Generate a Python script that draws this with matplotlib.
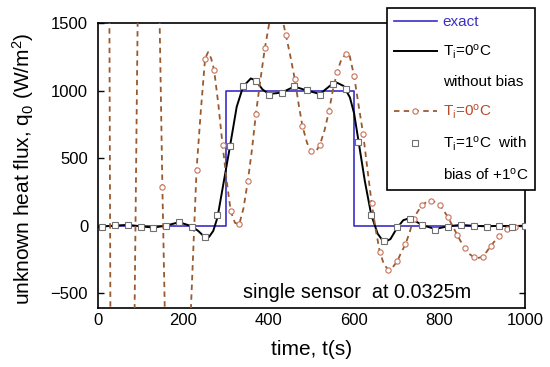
import matplotlib.pyplot as plt
from matplotlib.lines import Line2D

plt.rcParams['font.family'] = ['Liberation Sans', 'DejaVu Sans']
plt.rcParams['mathtext.fontset'] = 'custom'
plt.rcParams['mathtext.rm'] = 'Liberation Sans'
plt.rcParams['mathtext.it'] = 'Liberation Sans:italic'

# exact step heat flux
exact_t = [0, 300, 300, 600, 600, 1000]
exact_q = [0, 0, 1000, 1000, 0, 0]

# Ti = 0 C without bias (solid black)
black_t = [0, 10, 40, 70, 100, 130, 160, 190, 220, 235, 250, 260, 270, 280, 295,
           310, 325, 340, 358, 370, 385, 400, 430, 460, 490, 520, 545, 560, 575,
           590, 600, 610, 625, 640, 655, 670, 685, 700, 715, 730, 745, 760, 790,
           820, 850, 880, 910, 940, 970, 1000]
black_q = [-10, -7, 0, 5, -5, -15, 0, 25, -5, -40, -85, -85, -40, 60, 330,
           600, 880, 1030, 1090, 1075, 1010, 975, 985, 1030, 1000, 975, 1040, 1058, 1035,
           950, 830, 630, 330, 80, -60, -125, -100, -20, 40, 55, 30, 2, -25,
           -5, 5, -2, -5, -2, -5, 0]

# Ti = 0 C (dashed), line trace including off-scale swings
red_t = [20, 35, 60, 70, 84, 96, 110, 125, 140, 151, 162, 175, 195, 210, 218,
         231, 241, 251, 258, 265, 272, 282, 292, 302, 311, 321, 331, 341, 351, 361,
         370, 381, 391, 404, 417, 430, 440, 451, 461, 470, 479, 490, 500, 510, 520,
         531, 541, 550, 560, 570, 581, 588, 600, 610, 621, 631, 641, 651, 660, 670,
         680, 690, 701, 710, 720, 730, 739, 750, 760, 770, 780, 790, 801, 810, 820,
         830, 841, 850, 860, 870, 880, 890, 901, 910, 920, 930, 940, 950, 959, 968,
         977, 988, 1000]
red_q = [8000, -6000, -9000, -7000, -1200, 2400, 6000, 5500, 2375, 284, -1500, -3500, -3500, -1500, -600,
         415, 850, 1237, 1285, 1240, 1155, 900, 595, 320, 106, 20, 10, 130, 328, 570,
         830, 1090, 1316, 1550, 1640, 1560, 1415, 1250, 1085, 900, 736, 610, 550, 545, 600,
         710, 847, 1000, 1138, 1230, 1272, 1280, 1106, 900, 681, 420, 168, -40, -193, -290,
         -326, -310, -264, -200, -140, -50, 52, 110, 150, 178, 185, 175, 150, 110, 60,
         0, -67, -120, -168, -210, -235, -240, -232, -195, -150, -112, -79, -50, -25, -15,
         -7, -3, 0]

# Ti = 0 C circle markers (visible samples)
circ_t = [151, 231, 251, 272, 292, 311, 331, 351, 370, 391, 440, 461, 479, 500, 520,
          541, 560, 581, 600, 621, 641, 660, 680, 701, 720, 739, 760, 780, 801, 820,
          841, 860, 880, 901, 920, 940, 959, 977]
circ_q = [284, 415, 1237, 1155, 595, 106, 15, 328, 830, 1316, 1415, 1085, 736, 550, 600,
          847, 1138, 1272, 1106, 681, 168, -193, -326, -264, -140, 52, 150, 185, 150, 60,
          -67, -168, -235, -232, -150, -79, -25, -7]

# Ti = 1 C with bias of +1 C (squares)
sq_t = [10, 40, 70, 100, 130, 160, 190, 220, 250, 280, 310, 340, 370, 400, 430, 460, 490,
        520, 550, 580, 610, 640, 670, 700, 730, 760, 790, 820, 850, 880, 910, 940, 970, 1000]
sq_q = [-7, 2, 7, -7, -20, -3, 30, -7, -81, 76, 587, 1035, 1069, 970, 980, 1035, 1002,
        970, 1047, 1015, 622, 81, -116, -7, 52, 2, -30, -7, 7, -2, -7, -2, -7, 0]

blue = '#3a2fc8'
brown = '#9a5a30'
circ_c = '#c8735a'

fig = plt.figure(figsize=(5.5, 3.67), dpi=100)
ax = fig.add_axes([0.178, 0.161, 0.7765, 0.776])

ax.plot(exact_t, exact_q, color=blue, lw=1.2, zorder=2)
ax.plot(black_t, black_q, color='black', lw=1.4, zorder=3)
ax.plot(red_t, red_q, color=brown, lw=1.3, ls=(0, (3, 2.4)), zorder=4)
ax.plot(circ_t, circ_q, 'o', ms=3.8, mfc='white', mec=circ_c, mew=0.8, zorder=5)
ax.plot(sq_t, sq_q, 's', ms=4.6, mfc='white', mec='#707070', mew=0.8, zorder=6)

ax.set_xlim(0, 1000)
ax.set_ylim(-610, 1500)
ax.set_xticks([0, 200, 400, 600, 800, 1000])
ax.set_yticks([-500, 0, 500, 1000, 1500])
ax.tick_params(axis='y', direction='in', length=4, width=1, right=True, labelsize=12, pad=7)
ax.tick_params(axis='x', length=0, labelsize=12, pad=4)
for s in ax.spines.values():
    s.set_linewidth(1.2)

ax.set_xlabel('time, t(s)', fontsize=15, labelpad=8)
ax.set_ylabel(r'unknown heat flux, q$_\mathrm{0}$ (W/m$^\mathrm{2}$)', fontsize=15)
ax.yaxis.set_label_coords(-0.145, 0.488)
ax.text(340, -535, 'single sensor  at 0.0325m', fontsize=14.3, va='baseline')

blank = Line2D([], [], ls='none')
handles = [
    Line2D([], [], color=blue, lw=1.2),
    Line2D([], [], color='black', lw=1.4),
    blank,
    Line2D([], [], color=brown, lw=1.3, ls=(0, (3, 2.4)), marker='o', ms=3.8,
           mfc='white', mec=circ_c, mew=0.8),
    Line2D([], [], ls='none', marker='s', ms=4.6, mfc='white', mec='#707070', mew=0.8),
    blank,
]
labels = [
    'exact',
    'T$_\\mathrm{i}$=0$^\\mathrm{o}$C',
    'without bias',
    'T$_\\mathrm{i}$=0$^\\mathrm{o}$C',
    'T$_\\mathrm{i}$=1$^\\mathrm{o}$C  with',
    'bias of +1$^\\mathrm{o}$C',
]
leg = ax.legend(handles, labels, loc='upper left', bbox_to_anchor=(0.7036, 0.978),
                bbox_transform=fig.transFigure, borderaxespad=0, fontsize=11,
                frameon=True, fancybox=False, edgecolor='black', framealpha=1,
                handlelength=2.8, handletextpad=0.4, labelspacing=0.9,
                borderpad=0.45, numpoints=1)
leg.get_frame().set_linewidth(1.2)
text_colors = [blue, 'black', 'black', '#b84a2c', 'black', 'black']
for t, c in zip(leg.get_texts(), text_colors):
    t.set_color(c)

fig.savefig('out.png', dpi=100)
